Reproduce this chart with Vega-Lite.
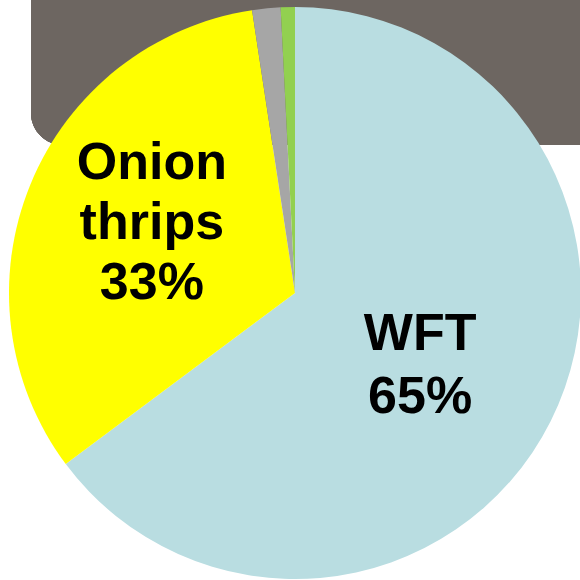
{
  "$schema": "https://vega.github.io/schema/vega-lite/v6.json",
  "width": 580,
  "height": 580,
  "padding": 0,
  "autosize": "none",
  "config": {"view": {"stroke": null}},
  "data": {
    "values": [
      {"cat": "WFT", "pct": 64.8, "ord": 1, "label": "WFT\n65%"},
      {"cat": "Onion thrips", "pct": 32.8, "ord": 2, "label": "Onion\nthrips\n33%"},
      {"cat": "Other", "pct": 1.6, "ord": 3, "label": ""},
      {"cat": "Other2", "pct": 0.8, "ord": 4, "label": ""}
    ]
  },
  "layer": [
    {
      "mark": {"type": "rect", "color": "#6d6661", "cornerRadiusBottomLeft": 32},
      "encoding": {
        "x": {"datum": 31, "type": "quantitative", "scale": {"domain": [0, 580], "range": [0, 580], "nice": false, "zero": false}, "axis": null},
        "x2": {"datum": 580},
        "y": {"datum": 0, "type": "quantitative", "scale": {"domain": [0, 580], "range": [0, 580], "nice": false, "zero": false}, "axis": null},
        "y2": {"datum": 145}
      }
    },
    {
      "mark": {"type": "arc", "outerRadius": 286},
      "encoding": {
        "theta": {"field": "pct", "type": "quantitative", "stack": true},
        "order": {"field": "ord", "type": "quantitative"},
        "color": {
          "field": "cat", "type": "nominal", "legend": null,
          "scale": {"domain": ["WFT", "Onion thrips", "Other", "Other2"], "range": ["#b9dde1", "#ffff00", "#a6a6a6", "#92d050"]}
        },
        "x": {"datum": 295, "type": "quantitative"},
        "y": {"datum": 293, "type": "quantitative"}
      }
    },
    {
      "mark": {"type": "text", "radius": 140, "dx": 0, "dy": -22, "font": "Liberation Sans", "fontWeight": "bold", "fontSize": 52, "lineHeight": 63, "lineBreak": "\n", "align": "center", "baseline": "middle", "color": "#000000"},
      "encoding": {
        "theta": {"field": "pct", "type": "quantitative", "stack": true},
        "order": {"field": "ord", "type": "quantitative"},
        "text": {"condition": {"test": "datum.cat === 'WFT'", "field": "label"}, "value": ""},
        "x": {"datum": 295, "type": "quantitative"},
        "y": {"datum": 293, "type": "quantitative"}
      }
    },
    {
      "mark": {"type": "text", "radius": 158, "dx": 3, "dy": -70, "font": "Liberation Sans", "fontWeight": "bold", "fontSize": 52, "lineHeight": 60, "lineBreak": "\n", "align": "center", "baseline": "middle", "color": "#000000"},
      "encoding": {
        "theta": {"field": "pct", "type": "quantitative", "stack": true},
        "order": {"field": "ord", "type": "quantitative"},
        "text": {"condition": {"test": "datum.cat === 'Onion thrips'", "field": "label"}, "value": ""},
        "x": {"datum": 295, "type": "quantitative"},
        "y": {"datum": 293, "type": "quantitative"}
      }
    }
  ]
}
